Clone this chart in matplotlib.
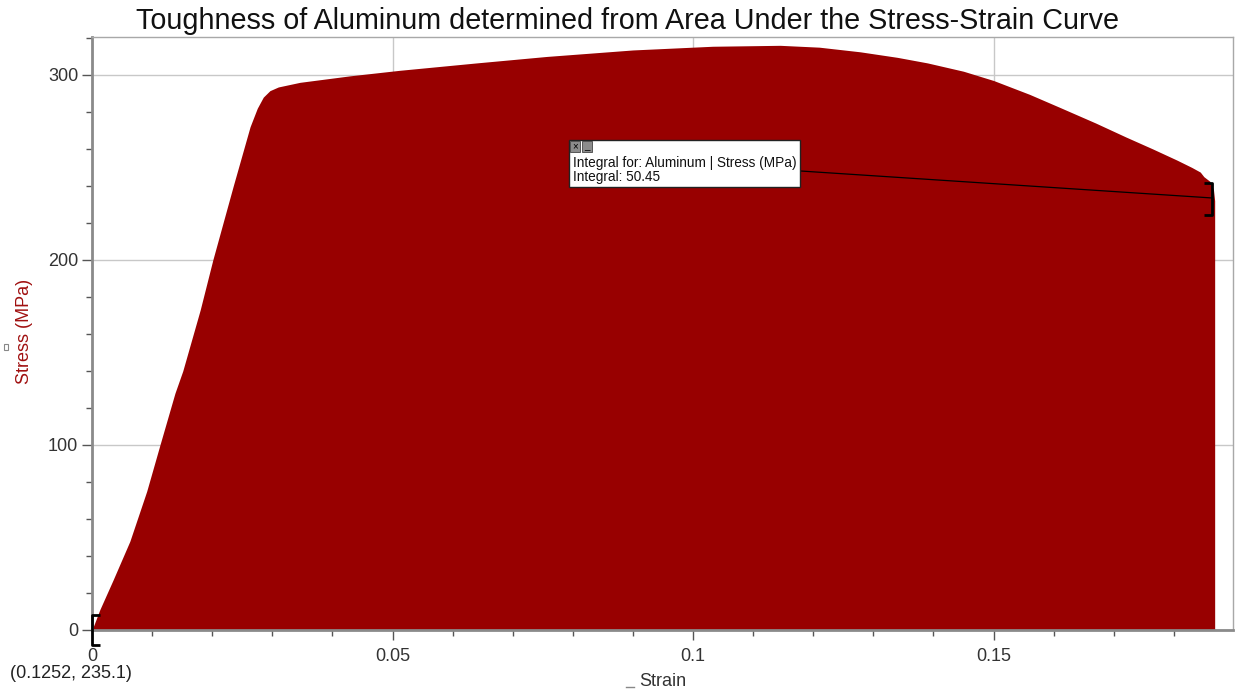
import matplotlib
matplotlib.use("Agg")
import matplotlib.pyplot as plt
from matplotlib.patches import Rectangle
from matplotlib.ticker import MultipleLocator, FixedLocator

# Stress-strain record for the aluminum specimen
strain = [0.0, 0.0013, 0.0035, 0.0063, 0.0091, 0.0113, 0.0138, 0.0151, 0.0180,
          0.0201, 0.0235, 0.0263, 0.0275, 0.0285, 0.0296, 0.0310, 0.0346, 0.0429,
          0.0512, 0.0640, 0.0757, 0.0900, 0.1033, 0.1145, 0.1210, 0.1278, 0.1340,
          0.1390, 0.1450, 0.1500, 0.1560, 0.1610, 0.1670, 0.1720, 0.1765, 0.1805,
          0.1830, 0.1844, 0.1850, 0.1860, 0.1866, 0.1868]
stress = [0.0, 11, 27, 48, 75, 100, 128, 140, 173,
          200, 240, 272, 282, 288, 291.5, 293.5, 296, 299.5,
          302.5, 306.5, 310, 313.5, 315.5, 316, 315, 312.5, 309.5,
          306.5, 302, 297, 289.5, 282.5, 274, 266.5, 260, 254,
          250, 247.5, 245, 242.5, 238, 232]

x_major = [0, 0.05, 0.1, 0.15]
x_labels = ["0", "0.05", "0.1", "0.15"]
y_major = [0, 100, 200, 300]

title = "Toughness of Aluminum determined from Area Under the Stress-Strain Curve"
integral_text = "Integral for: Aluminum | Stress (MPa)\nIntegral: 50.45"
cursor_text = "(0.1252, 235.1)"

W, H = 1252, 689
FILL = "#980000"
FONT = "Liberation Sans"

plt.rcParams["font.family"] = [FONT, "DejaVu Sans"]

fig = plt.figure(figsize=(W / 100, H / 100), dpi=100)
ax = fig.add_axes([92 / W, (H - 630) / H, (1233 - 92) / W, (630 - 37) / H])


def fpx(x, y):
    """Pixel position to figure fraction."""
    return x / W, 1 - y / H


ax.fill_between(strain, 0, stress, color=FILL, linewidth=0, zorder=2)

ax.set_xlim(0, 0.18985)
ax.set_ylim(0, 320.5)

ax.xaxis.set_major_locator(FixedLocator(x_major))
ax.set_xticklabels(x_labels)
ax.xaxis.set_minor_locator(MultipleLocator(0.01))
ax.yaxis.set_major_locator(FixedLocator(y_major))
ax.yaxis.set_minor_locator(MultipleLocator(20))

ax.grid(True, which="major", color="#c8c8c8", linewidth=1.0, zorder=0)
ax.set_axisbelow(True)

ax.tick_params(axis="both", which="major", length=7, width=1, color="#555555",
               labelsize=13, labelcolor="#333333", direction="out")
ax.tick_params(axis="both", which="minor", length=4, width=1, color="#555555", direction="out")
ax.tick_params(axis="x", pad=6)
ax.tick_params(axis="y", pad=3)

for side in ("left", "bottom"):
    ax.spines[side].set_color("#8a8a8a")
    ax.spines[side].set_linewidth(2)
for side in ("top", "right"):
    ax.spines[side].set_color("#a8a8a8")
    ax.spines[side].set_linewidth(1)

ax.set_xlabel("Strain", fontsize=13, color="#333333", labelpad=6)
ax.set_ylabel("Stress (MPa)", fontsize=13, color="#a01010")
ax.yaxis.set_label_coords((33 - 92) / (1233 - 92), (630 - 331) / (630 - 37))

fig.text(*fpx(627, 21), title, fontsize=20.7, ha="center", va="center", color="#111111")

# integral readout box
bx0, by0, bx1, by1 = 569, 140, 800, 187
fig.patches.append(Rectangle(fpx(bx0, by1), (bx1 - bx0) / W, (by1 - by0) / H,
                             transform=fig.transFigure, facecolor="white",
                             edgecolor="#222222", linewidth=1, zorder=5))
for i, sym in enumerate(["×", "_"]):
    x0 = bx0 + 1 + i * 12
    fig.patches.append(Rectangle(fpx(x0, 152), 10 / W, 11 / H, transform=fig.transFigure,
                                 facecolor="#8c8c8c", edgecolor="#444444",
                                 linewidth=0.6, zorder=6))
    fig.text(*fpx(x0 + 5, 146.5), sym, fontsize=7, ha="center", va="center",
             color="black", zorder=7)
fig.text(*fpx(573, 170), integral_text, fontsize=9.8, ha="left", va="center",
         color="#111111", linespacing=1.05, zorder=7)

# leader line from the box to the end of the integration range
ax.plot([0.1178, 0.18636], [248.1, 233.5], color="black", linewidth=0.9, zorder=4)

# integration range brackets
ax.plot([0.0013, 0.0, 0.0, 0.0013], [8.1, 8.1, -8.1, -8.1], color="black",
        linewidth=2, clip_on=False, zorder=6, solid_capstyle="butt")
ax.plot([0.1850, 0.18636, 0.18636, 0.1850], [241.6, 241.6, 224.3, 224.3], color="black",
        linewidth=2, zorder=6, solid_capstyle="butt")

fig.text(*fpx(71, 673), cursor_text, fontsize=13, ha="center", va="center", color="#222222")

# small widget markers beside the axis labels
fig.patches.append(Rectangle(fpx(4, 350), 4 / W, 6 / H, transform=fig.transFigure,
                             facecolor="white", edgecolor="#888888", linewidth=0.8))
fig.lines.append(plt.Line2D([626 / W, 634 / W], [1 - 687 / H, 1 - 687 / H],
                            transform=fig.transFigure, color="#888888", linewidth=1))

fig.savefig("out.png", dpi=100)
